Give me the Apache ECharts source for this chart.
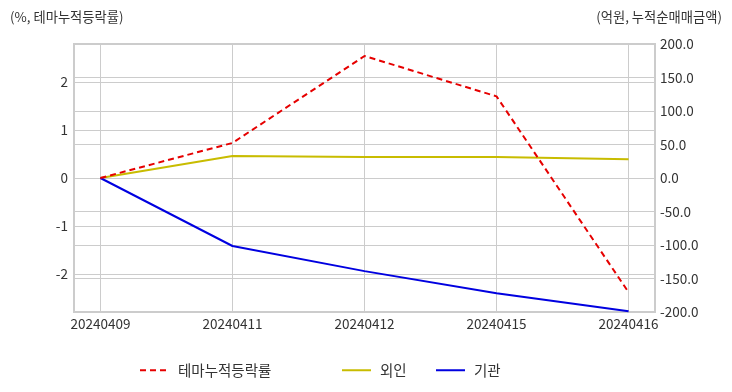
<!DOCTYPE html>
<html>
<head>
<meta charset="utf-8">
<script src="https://cdn.jsdelivr.net/npm/echarts@6/dist/echarts.min.js"></script>
<style>html,body{margin:0;padding:0;background:#fff}#c{width:732px;height:392px}</style>
</head>
<body>
<div id="c"></div>
<script>
var categories = ['20240409', '20240411', '20240412', '20240415', '20240416'];
var themeRate = [0, 0.73, 2.54, 1.70, -2.38];      // 테마누적등락률 (%), left axis
var foreign = [0, 32.8, 31.5, 31.3, 27.9];          // 외인 (억원), right axis
var institution = [0, -101.5, -139, -172, -199];    // 기관 (억원), right axis
var leftTicks = [-2, -1, 0, 1, 2];

function pairs(arr) { return arr.map(function (v, i) { return [i, v]; }); }
var xIdx = categories.map(function (c, i) { return i; });
var FONT = '"Noto Sans CJK KR", "Noto Sans", sans-serif';
var legendCommon = { top: 358, itemWidth: 29, itemHeight: 14, itemGap: 10, itemStyle: { opacity: 0 }, textStyle: { fontSize: 14.5, color: '#333', fontFamily: FONT, padding: [0, 0, 0, 4] } };

var chart = echarts.init(document.getElementById('c'), null, { renderer: 'canvas' });
chart.setOption({
  animation: false,
  textStyle: { fontFamily: FONT },
  title: [
    { text: '(%, 테마누적등락률)', left: 5, top: 5, textStyle: { fontSize: 13.3, fontWeight: 'normal', color: '#333', fontFamily: FONT } },
    { text: '(억원, 누적순매매금액)', right: 5, top: 5, textStyle: { fontSize: 13.3, fontWeight: 'normal', color: '#333', fontFamily: FONT } }
  ],
  legend: [
    Object.assign({ data: ['테마누적등락률'], left: 134 }, legendCommon),
    Object.assign({ data: ['외인'], left: 336 }, legendCommon),
    Object.assign({ data: ['기관'], left: 430 }, legendCommon)
  ],
  grid: { left: 74, right: 77, top: 44, bottom: 80, show: true, borderColor: '#ccc', borderWidth: 2, backgroundColor: 'transparent' },
  xAxis: {
    type: 'value', min: -0.2, max: 4.2,
    axisLine: { show: false },
    axisTick: { show: false, customValues: xIdx },
    axisLabel: { customValues: xIdx, formatter: function (v) { return categories[Math.round(v)]; }, color: '#333', fontSize: 13.5, margin: 5, fontFamily: FONT },
    splitLine: { show: true, lineStyle: { color: '#ccc', width: 1 } }
  },
  yAxis: [
    {
      type: 'value', min: -2.79, max: 2.79, position: 'left',
      axisLine: { show: false },
      axisTick: { show: false, customValues: leftTicks },
      axisLabel: { customValues: leftTicks, color: '#333', fontSize: 13.5, margin: 6, fontFamily: FONT },
      splitLine: { show: true, lineStyle: { color: '#ccc', width: 1 } }
    },
    {
      type: 'value', min: -200, max: 200, interval: 50, position: 'right',
      axisLine: { show: false },
      axisTick: { show: false },
      axisLabel: { formatter: function (v) { return v.toFixed(1); }, color: '#333', fontSize: 13.5, margin: 5, fontFamily: FONT },
      splitLine: { show: true, lineStyle: { color: '#ccc', width: 1 } }
    }
  ],
  series: [
    { name: '테마누적등락률', type: 'line', yAxisIndex: 0, data: pairs(themeRate), symbol: 'none',
      lineStyle: { color: '#e60000', width: 2, type: [6, 4] }, itemStyle: { color: '#e60000' }, z: 4 },
    { name: '외인', type: 'line', yAxisIndex: 1, data: pairs(foreign), symbol: 'none',
      lineStyle: { color: '#c8bc00', width: 2 }, itemStyle: { color: '#c8bc00' }, z: 3 },
    { name: '기관', type: 'line', yAxisIndex: 1, data: pairs(institution), symbol: 'none',
      lineStyle: { color: '#0000e0', width: 2 }, itemStyle: { color: '#0000e0' }, z: 3 }
  ]
});
</script>
</body>
</html>
